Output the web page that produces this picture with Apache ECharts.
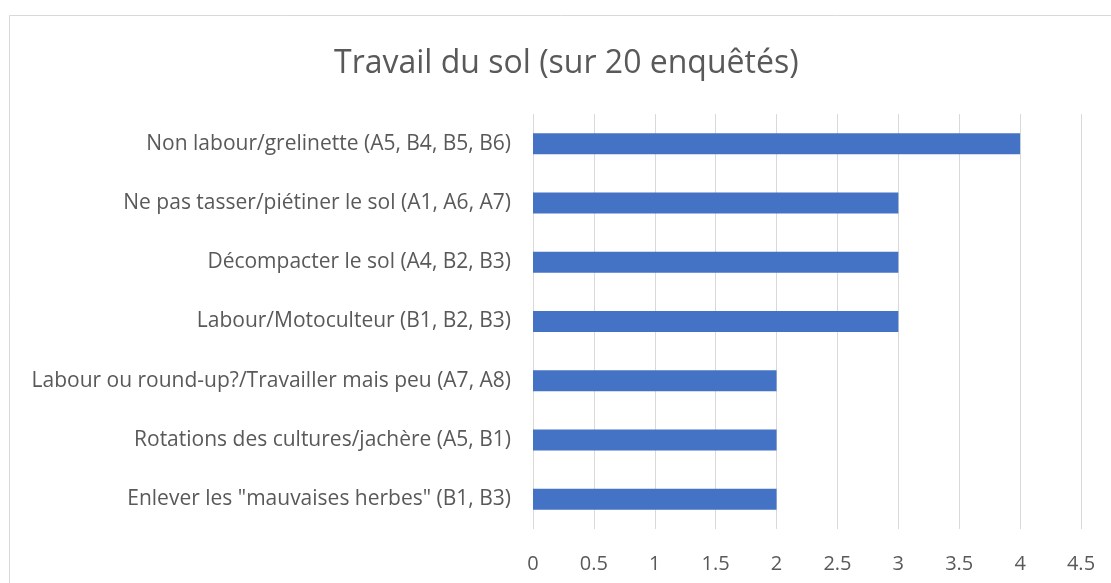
<!DOCTYPE html>
<html>
<head>
<meta charset="utf-8">
<script src="https://cdn.jsdelivr.net/npm/echarts@6/dist/echarts.min.js"></script>
<style>
  html, body { margin: 0; padding: 0; background: #fff; }
  #chart { width: 1111px; height: 583px; }
</style>
</head>
<body>
<div id="chart"></div>
<script>
// categories, top to bottom
var categories = [
    'Non labour/grelinette (A5, B4, B5, B6)',
    'Ne pas tasser/piétiner le sol (A1, A6, A7)',
    'Décompacter le sol (A4, B2, B3)',
    'Labour/Motoculteur (B1, B2, B3)',
    'Labour ou round-up?/Travailler mais peu (A7, A8)',
    'Rotations des cultures/jachère (A5, B1)',
    'Enlever les "mauvaises herbes" (B1, B3)'
];
var counts = [4, 3, 3, 3, 2, 2, 2];
var titleText = 'Travail du sol (sur 20 enquêtés)';

var font = '"Open Sans", sans-serif';
var myChart = echarts.init(document.getElementById('chart'));

var options = {
    animation: false,
    backgroundColor: '#fff',
    title: {
        text: titleText,
        left: 329,
        top: 43,
        textStyle: {
            fontFamily: font,
            fontSize: 32,
            fontWeight: 'normal',
            color: '#595959'
        }
    },
    graphic: [{
        type: 'rect',
        shape: { x: 9.5, y: 15.5, width: 1120, height: 600 },
        style: { fill: 'none', stroke: '#d9d9d9', lineWidth: 1 },
        silent: true
    }],
    grid: {
        left: 533,
        right: 30,
        top: 114,
        bottom: 54
    },
    xAxis: {
        type: 'value',
        min: 0,
        max: 4.5,
        interval: 0.5,
        axisLine: { show: false },
        axisTick: { show: false },
        splitLine: { lineStyle: { color: '#d9d9d9', width: 1 } },
        axisLabel: {
            margin: 25,
            fontFamily: font,
            fontSize: 20,
            color: '#595959'
        }
    },
    yAxis: {
        type: 'category',
        inverse: true,
        data: categories,
        axisLine: { show: false },
        axisTick: { show: false },
        axisLabel: {
            margin: 22,
            fontFamily: font,
            fontSize: 21,
            color: '#595959'
        }
    },
    series: [{
        type: 'bar',
        data: counts,
        barWidth: 21,
        itemStyle: { color: '#4472C4' }
    }]
};

myChart.setOption(options);
</script>
</body>
</html>
